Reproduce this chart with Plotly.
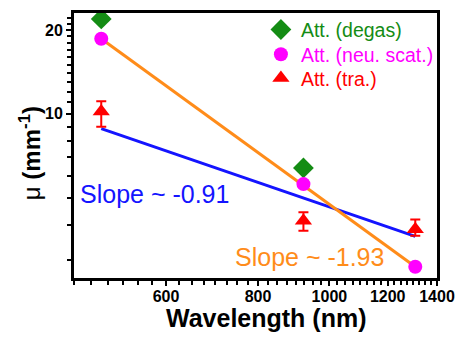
import plotly.graph_objects as go

# ---- data ----
wl = [490, 922, 1308]
att_degas = [21.9, 6.4, None]
att_neu = [18.6, 5.6, 2.83]
att_tra = [10.2, 4.14, 3.86]
tra_err_plus = [0.9, 0.3, 0.32]
tra_err_minus = [1.2, 0.33, 0.2]
fit_x = [490, 1308]
fit_blue = [8.85, 3.64]
fit_orange = [18.6, 2.83]
x_ticks = [600, 800, 1000, 1200, 1400]
y_ticks = [10, 20]
x_minor = [v for v in range(450, 1401, 25) if v not in x_ticks]
y_minor = [3, 4, 5, 6, 7, 8, 9, 11, 12, 13, 14, 15, 16, 17, 18, 19, 21, 22]

FONT = "Liberation Sans, Arial, sans-serif"
GREEN = "#148c14"
MAGENTA = "#ff00ff"
RED = "#ff0000"
BLUE = "#1414ff"
ORANGE = "#ff8c1a"

PL, PT, PW, PH = 74, 10, 369, 268  # plot area in px


def px_x(p):
    return (p - PL) / PW


def px_y(p):
    return (PT + PH - p) / PH


fig = go.Figure()

fig.add_trace(go.Scatter(x=fit_x, y=fit_blue, mode="lines",
                         line=dict(color=BLUE, width=3), showlegend=False))
fig.add_trace(go.Scatter(x=fit_x, y=fit_orange, mode="lines",
                         line=dict(color=ORANGE, width=3), showlegend=False))

fig.add_trace(go.Scatter(
    x=wl, y=att_degas, mode="markers", legend="legend",
    marker=dict(symbol="diamond", size=16, color=GREEN),
    name=f"<span style='color:{GREEN}'>Att. (degas)</span>"))
fig.add_trace(go.Scatter(
    x=wl, y=att_neu, mode="markers", legend="legend2",
    marker=dict(symbol="circle", size=14, color=MAGENTA),
    name=f"<span style='color:{MAGENTA}'>Att. (neu. scat.)</span>"))
fig.add_trace(go.Scatter(
    x=wl, y=att_tra, mode="markers", legend="legend3",
    marker=dict(symbol="triangle-up", size=15, color=RED),
    error_y=dict(type="data", array=tra_err_plus, arrayminus=tra_err_minus,
                 color=RED, thickness=2, width=5),
    name=f"<span style='color:{RED}'>Att. (tra.)</span>"))

axis_common = dict(
    showline=True, linewidth=3, linecolor="black", mirror=True,
    showgrid=False, zeroline=False, ticks="outside", ticklen=5, tickwidth=2,
    tickcolor="black", tickfont=dict(family=FONT, size=16, color="black",
                                     weight="bold"),
)

fig.update_xaxes(type="log", range=[2.6532, 3.1461], tickmode="array",
                 tickvals=x_ticks, ticktext=[str(v) for v in x_ticks],
                 ticklabelstandoff=-3,
                 minor=dict(tickmode="array", tickvals=x_minor, ticks="outside",
                            ticklen=4, tickwidth=2, tickcolor="black"),
                 **axis_common)
fig.update_yaxes(type="log", range=[0.4116, 1.3617], tickmode="array",
                 tickvals=y_ticks, ticktext=[str(v) for v in y_ticks],
                 minor=dict(tickmode="array", tickvals=y_minor, ticks="outside",
                            ticklen=4, tickwidth=2, tickcolor="black"),
                 **axis_common)

fig.add_annotation(text="Slope ~ -0.91", xref="paper", yref="paper",
                   x=px_x(78), y=px_y(193), xanchor="left", yanchor="middle",
                   showarrow=False, font=dict(family=FONT, size=25, color=BLUE))
fig.add_annotation(text="Slope ~ -1.93", xref="paper", yref="paper",
                   x=px_x(236), y=px_y(257), xanchor="left",
                   yanchor="middle", showarrow=False,
                   font=dict(family=FONT, size=25, color=ORANGE))

fig.add_annotation(text="<b>Wavelength (nm)</b>", xref="paper", yref="paper",
                   x=px_x(269), y=px_y(318), xanchor="center",
                   yanchor="middle", showarrow=False,
                   font=dict(family=FONT, size=25, color="black"))
fig.add_annotation(text="μ <b>(mm<sup>-1</sup>)</b>", xref="paper", yref="paper",
                   x=px_x(30), y=px_y(152), xanchor="center",
                   yanchor="middle", textangle=-90, showarrow=False,
                   font=dict(family=FONT, size=24, color="black"))

leg_common = dict(xanchor="left", yanchor="middle", bgcolor="rgba(0,0,0,0)",
                  borderwidth=0, font=dict(family=FONT, size=19.5),
                  itemwidth=30)
fig.update_layout(
    width=465, height=337,
    margin=dict(l=PL, r=465 - PL - PW, t=PT, b=337 - PT - PH),
    plot_bgcolor="white", paper_bgcolor="white",
    showlegend=True,
    legend=dict(x=px_x(264), y=px_y(27), **leg_common),
    legend2=dict(x=px_x(264), y=px_y(52), **leg_common),
    legend3=dict(x=px_x(264), y=px_y(76), **leg_common),
)

fig.write_html("out.html")
